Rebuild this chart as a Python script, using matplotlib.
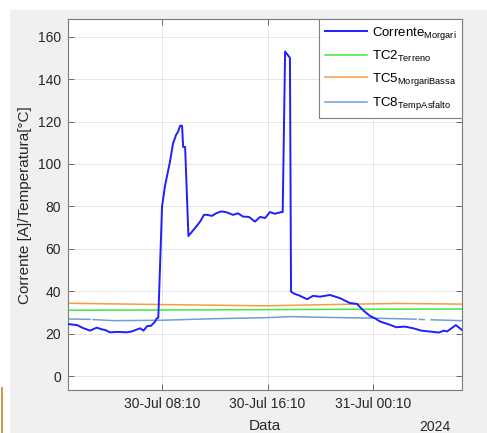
import numpy as np
import pandas as pd
import matplotlib
matplotlib.use("Agg")
import matplotlib.pyplot as plt
import matplotlib.dates as mdates
from matplotlib.patches import Rectangle
from matplotlib.lines import Line2D

plt.rcParams['font.family'] = ['Liberation Sans', 'DejaVu Sans']
plt.rcParams['mathtext.default'] = 'regular'

# Corrente Morgari [A]
corr_time = ["2024-07-30 01:02", "2024-07-30 01:43", "2024-07-30 02:11", "2024-07-30 02:42",
             "2024-07-30 03:13", "2024-07-30 03:36", "2024-07-30 03:51", "2024-07-30 04:13",
             "2024-07-30 04:50", "2024-07-30 05:29", "2024-07-30 05:52", "2024-07-30 06:30",
             "2024-07-30 06:45", "2024-07-30 07:03", "2024-07-30 07:19", "2024-07-30 07:38",
             "2024-07-30 07:46", "2024-07-30 07:53", "2024-07-30 08:10", "2024-07-30 08:24",
             "2024-07-30 08:46", "2024-07-30 09:00", "2024-07-30 09:14", "2024-07-30 09:23",
             "2024-07-30 09:32", "2024-07-30 09:41", "2024-07-30 09:46", "2024-07-30 09:55",
             "2024-07-30 10:10", "2024-07-30 10:26", "2024-07-30 10:48", "2024-07-30 11:03",
             "2024-07-30 11:21", "2024-07-30 11:35", "2024-07-30 11:57", "2024-07-30 12:16",
             "2024-07-30 12:38", "2024-07-30 13:01", "2024-07-30 13:33", "2024-07-30 13:56",
             "2024-07-30 14:18", "2024-07-30 14:46", "2024-07-30 15:13", "2024-07-30 15:36",
             "2024-07-30 15:59", "2024-07-30 16:21", "2024-07-30 16:44", "2024-07-30 17:11",
             "2024-07-30 17:19", "2024-07-30 17:30", "2024-07-30 17:52", "2024-07-30 17:57",
             "2024-07-30 18:10", "2024-07-30 18:38", "2024-07-30 19:10", "2024-07-30 19:37",
             "2024-07-30 20:08", "2024-07-30 20:54", "2024-07-30 21:40", "2024-07-30 22:25",
             "2024-07-30 22:57", "2024-07-30 23:24", "2024-07-30 23:56", "2024-07-31 00:19",
             "2024-07-31 00:42", "2024-07-31 01:20", "2024-07-31 01:56", "2024-07-31 02:35",
             "2024-07-31 03:13", "2024-07-31 03:50", "2024-07-31 05:10", "2024-07-31 05:33",
             "2024-07-31 05:47", "2024-07-31 06:27", "2024-07-31 06:55"]
corr_val = [24.5, 24.0, 22.6, 21.4, 22.8, 22.0, 21.7, 20.6,
            20.8, 20.6, 21.0, 22.5, 21.4, 23.6, 23.6, 25.6,
            27.2, 27.5, 80.0, 90.0, 101.0, 109.7, 113.7, 115.2,
            118.0, 118.0, 108.0, 108.0, 66.0, 68.0, 70.8, 72.8,
            76.0, 76.0, 75.5, 76.7, 77.6, 77.3, 76.0, 76.7,
            75.2, 75.0, 72.8, 75.0, 74.5, 77.3, 76.5, 77.3,
            77.3, 153.0, 150.0, 39.8, 38.9, 37.8, 36.2, 37.8,
            37.4, 38.2, 36.7, 34.4, 34.0, 31.1, 28.3, 27.2,
            25.7, 24.4, 23.0, 23.3, 22.5, 21.4, 20.5, 21.4,
            21.0, 24.0, 21.7]

# TC2 Terreno [°C]
tc2_time = ["2024-07-30 01:02", "2024-07-30 12:00", "2024-07-30 20:00", "2024-07-31 06:55"]
tc2_val = [31.0, 31.2, 31.4, 31.6]

# TC5 MorgariBassa [°C]
tc5_time = ["2024-07-30 01:02", "2024-07-30 08:00", "2024-07-30 16:00", "2024-07-30 22:00",
            "2024-07-31 02:00", "2024-07-31 06:55"]
tc5_val = [34.3, 33.7, 33.1, 33.8, 34.2, 33.9]

# TC8 TempAsfalto [°C] (NaN = missing samples)
tc8_time = ["2024-07-30 01:02", "2024-07-30 02:42", "2024-07-30 02:48", "2024-07-30 02:56",
            "2024-07-30 04:30", "2024-07-30 08:10", "2024-07-30 12:00", "2024-07-30 16:00",
            "2024-07-30 18:00", "2024-07-30 20:00", "2024-07-31 00:00", "2024-07-31 03:26",
            "2024-07-31 03:33", "2024-07-31 03:40", "2024-07-31 04:03", "2024-07-31 04:15",
            "2024-07-31 04:35", "2024-07-31 06:55"]
tc8_val = [26.9, 26.7, np.nan, 26.6, 26.1, 26.3, 27.0, 27.5,
           28.0, 27.7, 27.3, 26.8, np.nan, 26.7, 26.6, np.nan,
           26.5, 26.1]

xticks = ["2024-07-30 08:10", "2024-07-30 16:10", "2024-07-31 00:10"]

fig = plt.figure(figsize=(4.87, 4.33), dpi=100)
fig.patch.set_facecolor('white')
fig.patches.append(Rectangle((10 / 487, 0), 1, (433 - 9.5) / 433, transform=fig.transFigure,
                             facecolor='#f0f0f0', edgecolor='none', zorder=-10))
fig.lines.append(Line2D([1.5 / 487, 1.5 / 487], [0, 45 / 433], transform=fig.transFigure,
                        color='#c8862a', lw=1.2))

ax = fig.add_axes([68 / 487, 43 / 433, 394 / 487, 370.7 / 433])

ax.plot(pd.to_datetime(corr_time), corr_val, color='#1f1fff', lw=1.4,
        label='Corrente$_{Morgari}$', zorder=5)
ax.plot(pd.to_datetime(tc2_time), tc2_val, color='#3fe83f', lw=1.1, label='TC2$_{Terreno}$')
ax.plot(pd.to_datetime(tc5_time), tc5_val, color='#f89a3e', lw=1.1, label='TC5$_{MorgariBassa}$')
ax.plot(pd.to_datetime(tc8_time), tc8_val, color='#6f9fd4', lw=1.1, label='TC8$_{TempAsfalto}$')

ax.set_xlim(pd.Timestamp(corr_time[0]), pd.Timestamp(corr_time[-1]))
ax.set_ylim(-6.6, 168.2)
ax.set_yticks(np.arange(0, 161, 20))
ax.set_xticks(pd.to_datetime(xticks))
ax.xaxis.set_major_formatter(mdates.DateFormatter('%d-%b %H:%M'))

ax.grid(True, color='#e2e2e2', lw=0.6)
ax.set_axisbelow(True)
for s in ax.spines.values():
    s.set_color('#7a7a7a')
    s.set_linewidth(0.8)
ax.tick_params(direction='in', top=True, right=True, length=4, width=0.6,
               color='#555555', labelcolor='#262626', labelsize=10, pad=5)

ax.set_ylabel('Corrente [A]/Temperatura[°C]', fontsize=11, color='#262626', labelpad=4)
ax.set_xlabel('Data', fontsize=11, color='#262626', labelpad=6)
ax.text(0.97, -0.080, '2024', transform=ax.transAxes, ha='right', va='top',
        fontsize=10, color='#262626')

leg = ax.legend(loc='upper right', bbox_to_anchor=(1, 1), borderaxespad=0, fancybox=False,
                framealpha=1, edgecolor='#808080', fontsize=9.5, handlelength=3.2,
                labelspacing=0.55, borderpad=0.4, handletextpad=0.4)
leg.get_frame().set_linewidth(0.8)

fig.savefig('out.png', dpi=100)
